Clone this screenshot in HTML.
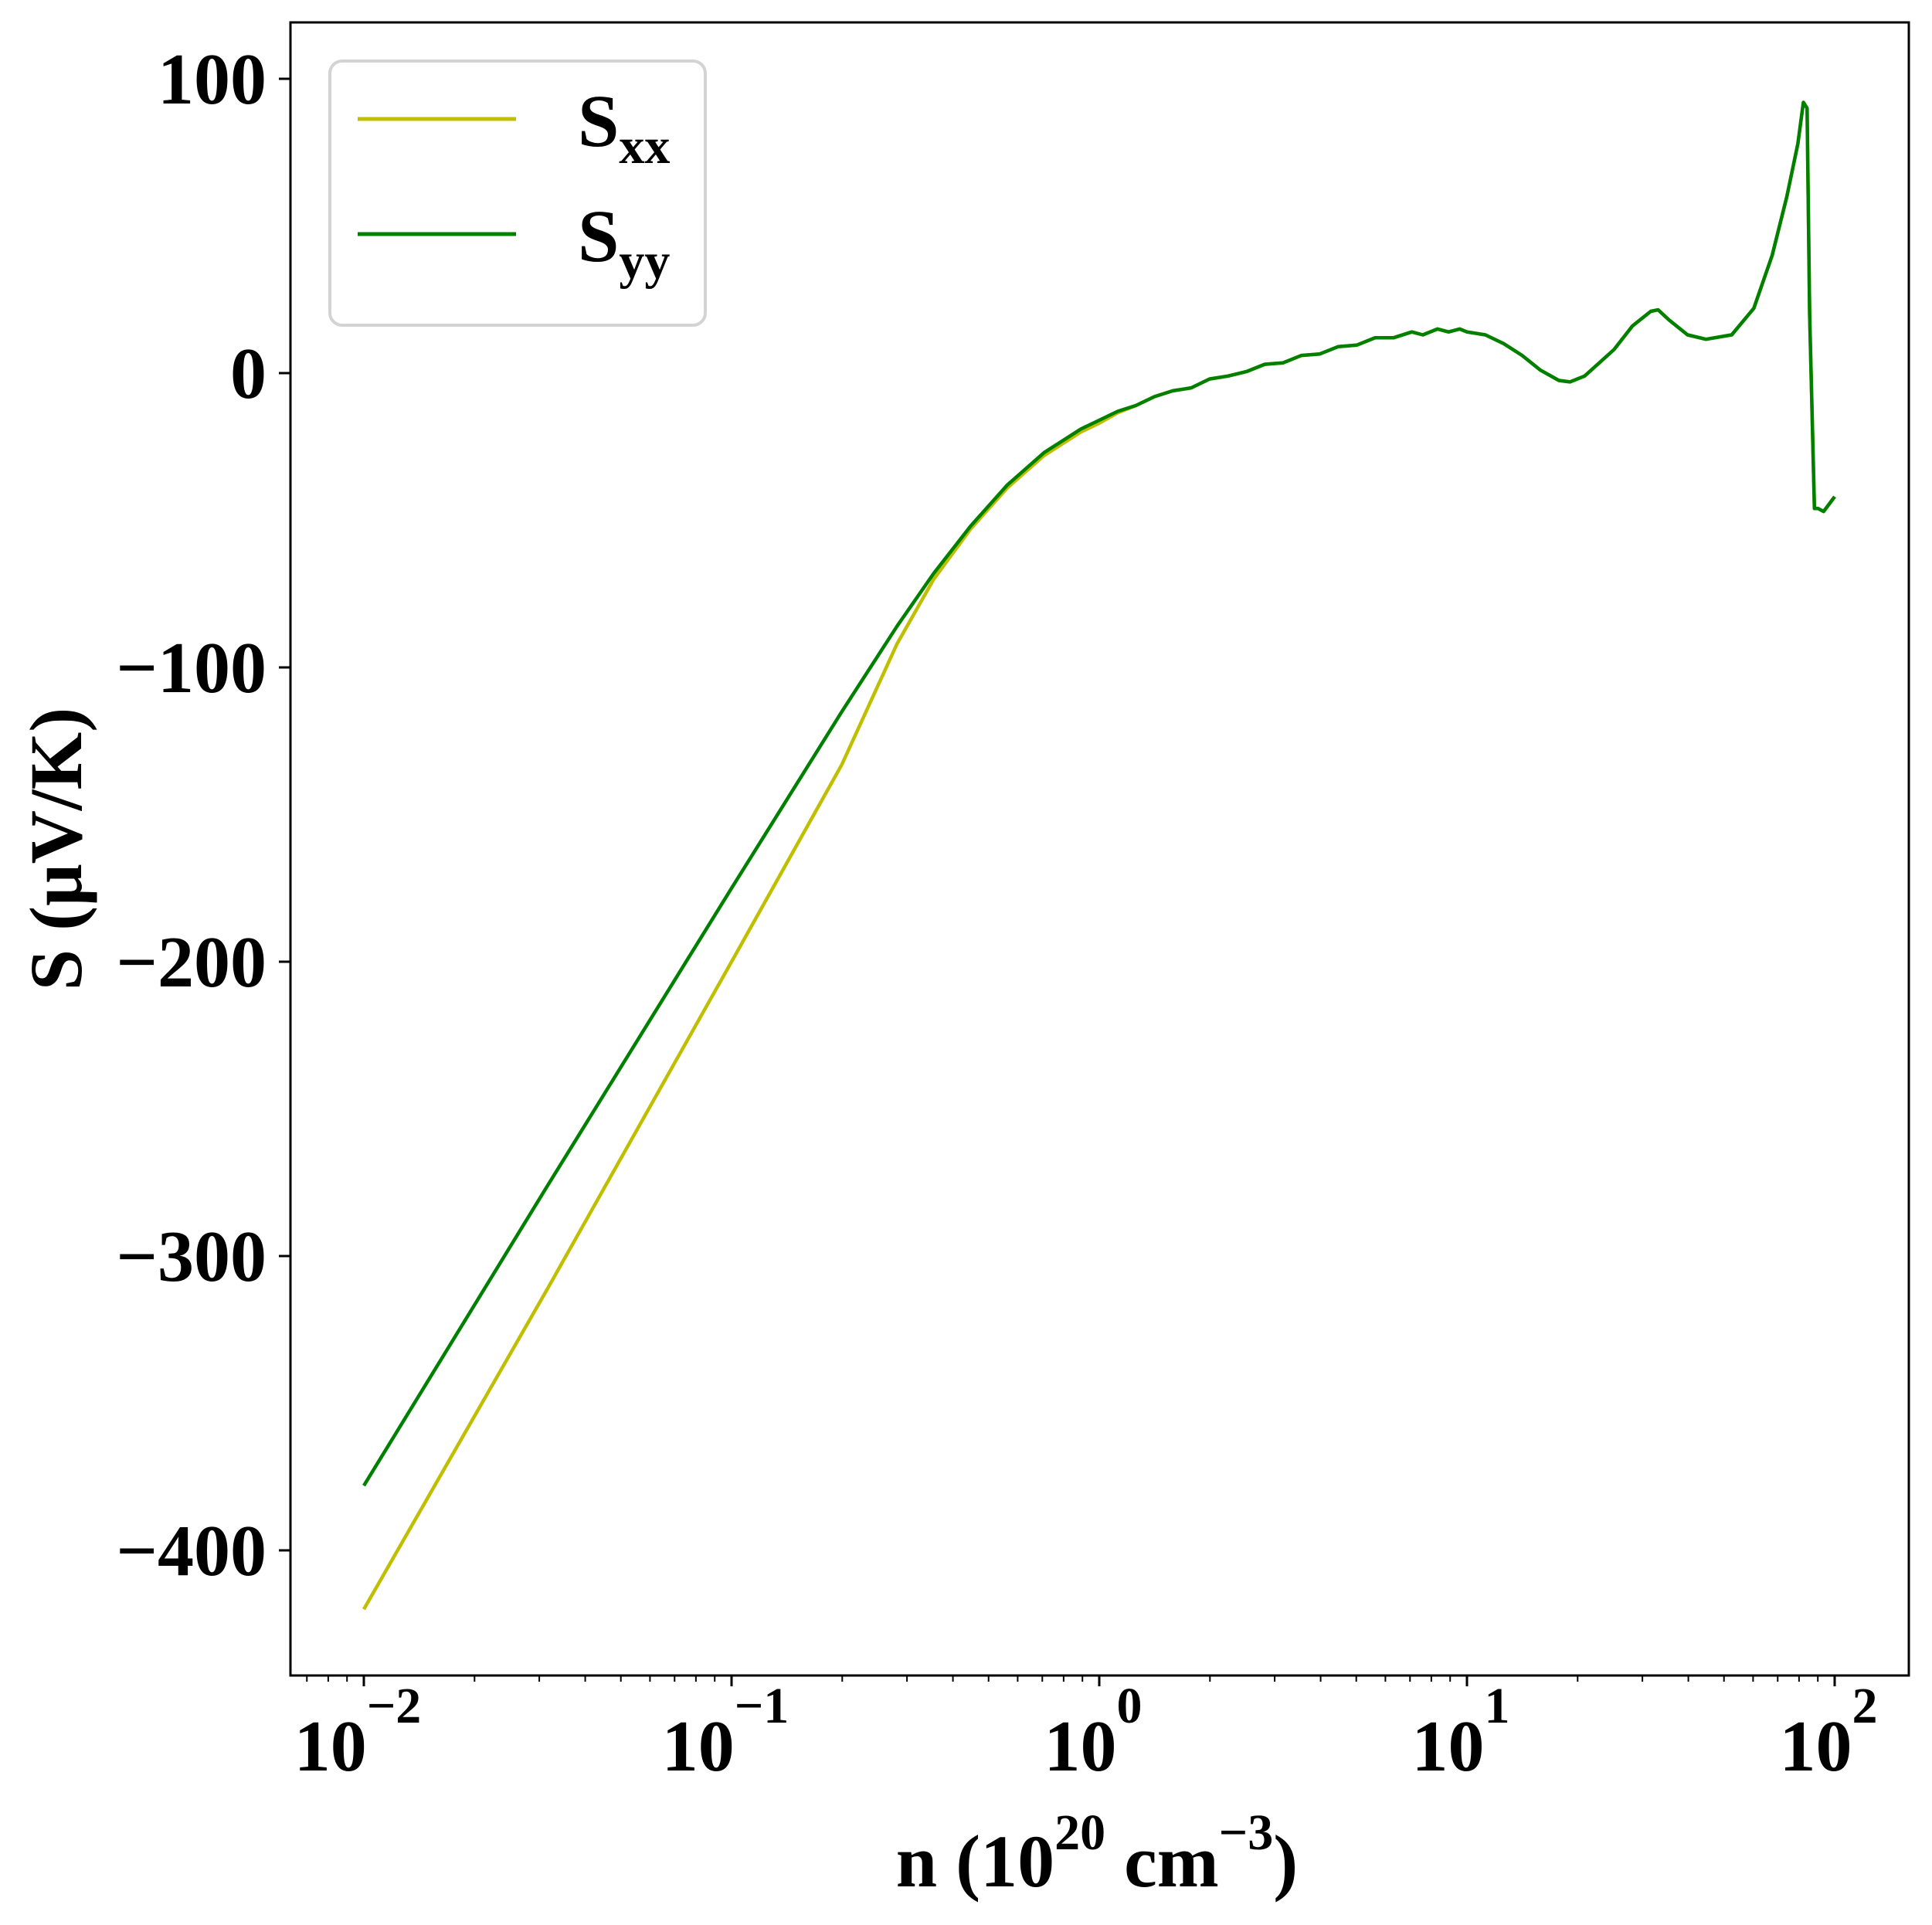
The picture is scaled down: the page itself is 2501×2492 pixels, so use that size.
<!DOCTYPE html>
<html><head><meta charset="utf-8"><style>
html,body{margin:0;padding:0;background:#fff;}
svg{display:block;}
text{font-family:"Liberation Serif",serif;font-weight:bold;fill:#000;}
</style></head><body>
<svg id="chart" width="2501" height="2492" viewBox="0 0 2501 2492" xmlns="http://www.w3.org/2000/svg">
<g id="grid-layer"></g>
<g id="series-layer"></g>
<rect x="376" y="29" width="2095" height="2140" fill="none" stroke="#000" stroke-width="3"/>
<g id="axis-layer"></g>
<text x="1420" y="2442" text-anchor="middle" font-size="96">n (10<tspan dy="-48" font-size="66">20</tspan><tspan dy="48"> cm</tspan><tspan dy="-48" font-size="66">−3</tspan><tspan dy="48">)</tspan></text>
<text transform="translate(105,1099) rotate(-90)" text-anchor="middle" font-size="96">S (μV/K)</text>
<g>
<rect x="427" y="79" width="486" height="342" rx="16" fill="#fff" stroke="#d3d3d3" stroke-width="4"/>
<line x1="463" y1="154" x2="668" y2="154" stroke="#bfbf00" stroke-width="5"/>
<text x="748" y="189" font-size="96">S<tspan dy="22" font-size="66">xx</tspan></text>
<line x1="463" y1="303" x2="668" y2="303" stroke="#008000" stroke-width="5"/>
<text x="748" y="338" font-size="96">S<tspan dy="22" font-size="66">yy</tspan></text>
</g>
</svg>
<script>
const logN = [-2,-1.5,-1,-0.7,-0.55,-0.45,-0.35,-0.25,-0.15,-0.05,0,0.05,0.1,0.15,0.2,0.25,0.3,0.35,0.4,0.45,0.5,0.55,0.6,0.65,0.7,0.75,0.8,0.85,0.88,0.92,0.95,0.98,1.0,1.05,1.1,1.15,1.2,1.25,1.28,1.32,1.4,1.45,1.5,1.52,1.55,1.6,1.65,1.72,1.78,1.83,1.87,1.9,1.915,1.925,1.932,1.945,1.955,1.97,2.0];
const syy = [-378,-276,-175,-115,-86,-68,-52,-38,-27,-19,-16,-13,-11,-8,-6,-5,-2,-1,0.5,3,3.5,6,6.5,9,9.5,12,12,14,13,15,14,15,14,13,10,6,1,-2.5,-3,-1,8,16,21,21.5,18,13,11.5,13,22,40,60,78,92,90,20,-46,-46,-47,-42];
const sxx = [-420,-311,-200,-133,-92,-70,-53,-39,-28,-20,-17,-13.5,-11,-8,-6,-5,-2,-1,0.5,3,3.5,6,6.5,9,9.5,12,12,14,13,15,14,15,14,13,10,6,1,-2.5,-3,-1,8,16,21,21.5,18,13,11.5,13,22,40,60,78,92,90,20,-46,-46,-47,-42];
const yTicks = [100,0,-100,-200,-300,-400];
const yTickLabels = ["100","0","−100","−200","−300","−400"];
const xDecades = [-2,-1,0,1,2];
const xTickExps = ["−2","−1","0","1","2"];

const NS = "http://www.w3.org/2000/svg";
const X0 = 471, DEC = 476, Y0 = 483, PER = 3.81;
function xs(l){return X0 + (l + 2) * DEC;}
function ys(v){return Y0 - v * PER;}
const series = document.getElementById('series-layer');
const axis = document.getElementById('axis-layer');

function drawLine(vals, color, name){
  const p = document.createElementNS(NS,'polyline');
  p.setAttribute('points', logN.map((l,i)=>xs(l).toFixed(1)+','+ys(vals[i]).toFixed(1)).join(' '));
  p.setAttribute('fill','none');
  p.setAttribute('stroke',color);
  p.setAttribute('stroke-width','4.5');
  p.setAttribute('stroke-linejoin','round');
  
  
  series.appendChild(p);
}
drawLine(sxx,'#bfbf00','sxx-line');
drawLine(syy,'#008000','syy-line');

yTicks.forEach((v,i)=>{
  const y = ys(v);
  const t = document.createElementNS(NS,'line');
  t.setAttribute('x1',361);t.setAttribute('x2',376);t.setAttribute('y1',y);t.setAttribute('y2',y);
  t.setAttribute('stroke','#000');t.setAttribute('stroke-width','3');
  
  
  axis.appendChild(t);
  const tx = document.createElementNS(NS,'text');
  tx.setAttribute('x',345);tx.setAttribute('y',y+32);tx.setAttribute('text-anchor','end');tx.setAttribute('font-size','94');
  tx.textContent = yTickLabels[i];
  
  
  axis.appendChild(tx);
});

for(let d=-3; d<=2; d++){
  for(let m=1; m<=9; m++){
    const l = d + Math.log10(m);
    const x = xs(l);
    if(x < 377 || x > 2470) continue;
    const t = document.createElementNS(NS,'line');
    t.setAttribute('x1',x);t.setAttribute('x2',x);t.setAttribute('y1',2169);t.setAttribute('y2', m===1 ? 2183 : 2177);
    t.setAttribute('stroke','#000');t.setAttribute('stroke-width', m===1 ? '3' : '2');
    
    
    axis.appendChild(t);
  }
}
xDecades.forEach((d,i)=>{
  const x = xs(d);
  const tx = document.createElementNS(NS,'text');
  tx.setAttribute('x',x-8);tx.setAttribute('y',2292);tx.setAttribute('text-anchor','middle');tx.setAttribute('font-size','94');
  tx.innerHTML = '10<tspan dy="-62" font-size="66">'+xTickExps[i]+'</tspan>';
  
  
  axis.appendChild(tx);
});
</script>
</body></html>
